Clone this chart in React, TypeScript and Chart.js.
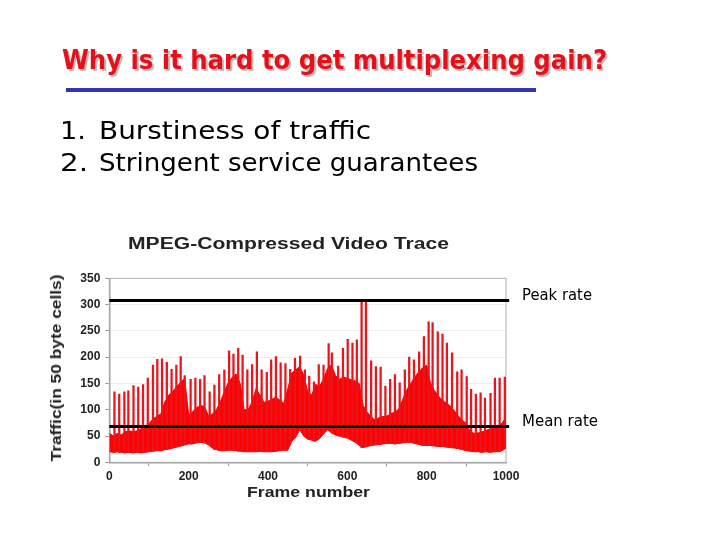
import React, { useEffect, useRef } from 'react';
import { Chart, registerables } from 'chart.js';

Chart.register(...registerables);

// ---------- data ----------
const BAND_FRAMES: number[] = Array.from({ length: 101 }, (_, i) => i * 10);

const BAND_HIGH: number[] = [
  55, 50, 55, 52, 58, 60, 58, 60, 64, 68,
  74, 82, 88, 92, 115, 128, 135, 144, 152, 160,
  90, 96, 104, 108, 106, 88, 92, 100, 115, 135,
  152, 162, 168, 150, 100, 100, 115, 140, 128, 114,
  116, 120, 124, 118, 112, 140, 170, 176, 182, 166,
  135, 128, 148, 145, 158, 178, 186, 165, 158, 162,
  160, 157, 155, 150, 108, 95, 87, 80, 85, 87,
  88, 93, 95, 102, 120, 138, 150, 162, 172, 180,
  185, 150, 136, 126, 118, 112, 107, 98, 88, 80,
  74, 58, 55, 56, 58, 61, 63, 66, 70, 74, 87,
];

const BAND_LOW: number[] = [
  20, 19, 20, 19, 18, 19, 18, 19, 18, 19,
  20, 21, 22, 22, 24, 25, 27, 29, 31, 33,
  35, 35, 37, 38, 37, 33, 27, 24, 22, 22,
  23, 23, 22, 21, 20, 20, 20, 20, 21, 20,
  20, 20, 21, 22, 23, 23, 40, 48, 62, 50,
  44, 42, 40, 45, 54, 62, 56, 52, 50, 48,
  46, 42, 38, 32, 28, 30, 32, 33, 34, 35,
  36, 36, 35, 36, 37, 38, 38, 36, 34, 32,
  32, 32, 31, 30, 30, 29, 28, 27, 26, 24,
  22, 21, 20, 20, 19, 20, 19, 20, 20, 22, 27,
];

const SPIKE_FRAMES: number[] = [
  13, 25, 38, 48, 61, 73, 85, 97, 110, 121, 133, 145, 157, 169, 180, 190,
  205, 217, 229, 240, 253, 265, 277, 290, 302, 313, 325, 336, 348, 360, 372, 384,
  397, 408, 420, 432, 444, 456, 468, 481, 493, 504, 516, 528, 540, 553, 561, 577,
  589, 601, 613, 624, 636, 647, 660, 672, 684, 696, 708, 720, 732, 745, 756, 768,
  781, 793, 805, 815, 828, 840, 851, 864, 877, 888, 901, 912, 924, 936, 947, 961,
  972, 984, 997,
];

const SPIKE_PEAKS: number[] = [
  134, 130, 134, 136, 146, 143, 148, 160, 185, 196, 197, 190, 177, 185, 201, 165,
  158, 160, 158, 165, 134, 147, 167, 176, 212, 206, 217, 204, 176, 186, 210, 176,
  171, 195, 201, 189, 188, 177, 198, 202, 176, 164, 153, 186, 185, 226, 208, 183,
  217, 234, 227, 233, 308, 308, 193, 182, 181, 145, 158, 167, 151, 176, 200, 195,
  210, 239, 267, 266, 248, 244, 227, 208, 172, 176, 163, 139, 130, 132, 122, 131,
  160, 160, 162,
];

const PEAK_RATE = 308;
const MEAN_RATE = 68;
const Y_TICKS: number[] = [0, 50, 100, 150, 200, 250, 300, 350];
const X_TICKS: number[] = [0, 200, 400, 600, 800, 1000];
const LINE_END_FRAME = 1008;

// ---------- text helpers ----------
let measureCtx: CanvasRenderingContext2D | null = null;
function textWidth(text: string, font: string): number {
  if (!measureCtx) measureCtx = document.createElement('canvas').getContext('2d');
  measureCtx!.font = font;
  return measureCtx!.measureText(text).width;
}

type FitProps = {
  text: string;
  left: number;
  baseline: number;
  width: number;
  size: number;
  family: string;
  weight?: string;
  color?: string;
  shadow?: string;
};

function FitText({ text, left, baseline, width, size, family, weight = 'normal', color = '#000', shadow }: FitProps) {
  const k = width / textWidth(text, `${weight} ${size}px ${family}`);
  return (
    <div
      style={{
        position: 'absolute',
        left,
        top: baseline - 0.846 * size,
        fontFamily: family,
        fontSize: size,
        fontWeight: weight as any,
        lineHeight: 1,
        color,
        whiteSpace: 'pre',
        transform: `scaleX(${k})`,
        transformOrigin: '0 0',
        textShadow: shadow,
      }}
    >
      {text}
    </div>
  );
}

function RotText({ text, cx, cy, length, size, family, weight = 'normal', color = '#000' }: any) {
  const k = length / textWidth(text, `${weight} ${size}px ${family}`);
  return (
    <div
      style={{
        position: 'absolute',
        left: cx,
        top: cy,
        fontFamily: family,
        fontSize: size,
        fontWeight: weight,
        lineHeight: 1,
        color,
        whiteSpace: 'pre',
        transform: `translate(-50%, -50%) rotate(-90deg) scaleX(${k})`,
      }}
    >
      {text}
    </div>
  );
}

// ---------- chart ----------
const framePlugin = {
  id: 'plotFrame',
  beforeDatasetsDraw(chart: any) {
    const { ctx, chartArea } = chart;
    ctx.save();
    ctx.strokeStyle = '#b0b0b0';
    ctx.lineWidth = 1;
    ctx.strokeRect(chartArea.left, chartArea.top, chartArea.right - chartArea.left, chartArea.bottom - chartArea.top);
    ctx.restore();
  },
};

function TraceChart() {
  const ref = useRef<HTMLCanvasElement | null>(null);
  useEffect(() => {
    if (!ref.current) return;
    const tickFont = { family: '"Liberation Sans", Arial, sans-serif', weight: 'bold' as const, size: 12 };
    const chart = new Chart(ref.current, {
      type: 'line',
      data: {
        datasets: [
          {
            type: 'line',
            data: BAND_FRAMES.map((f, i) => ({ x: f, y: BAND_LOW[i] })),
            borderColor: '#ff0000',
            borderWidth: 1,
            pointRadius: 0,
            fill: false,
            order: 3,
          },
          {
            type: 'line',
            data: BAND_FRAMES.map((f, i) => ({ x: f, y: BAND_HIGH[i] })),
            borderColor: '#f20000',
            borderWidth: 1,
            pointRadius: 0,
            fill: '-1',
            backgroundColor: '#ff0000',
            order: 3,
          },
          {
            type: 'bar',
            data: SPIKE_FRAMES.map((f, i) => ({ x: f, y: [BAND_LOW[Math.round(f / 10)], SPIKE_PEAKS[i]] })) as any,
            backgroundColor: '#e8161c',
            barThickness: 1.6,
            order: 2,
          },
          {
            type: 'line',
            data: [{ x: 0, y: PEAK_RATE }, { x: LINE_END_FRAME, y: PEAK_RATE }],
            borderColor: '#000',
            borderWidth: 3,
            pointRadius: 0,
            clip: false as any,
            order: 1,
          },
          {
            type: 'line',
            data: [{ x: 0, y: MEAN_RATE }, { x: LINE_END_FRAME, y: MEAN_RATE }],
            borderColor: '#000',
            borderWidth: 3,
            pointRadius: 0,
            clip: false as any,
            order: 1,
          },
        ] as any,
      },
      options: {
        animation: false,
        responsive: false,
        devicePixelRatio: 1,
        layout: { padding: { left: 0, top: 278.3, right: 214, bottom: 0 } },
        plugins: { legend: { display: false }, tooltip: { enabled: false }, title: { display: false } },
        scales: {
          x: {
            type: 'linear',
            min: 0,
            max: 1000,
            offset: false,
            afterFit: (s: any) => { s.height = 77.7; },
            afterBuildTicks: (s: any) => { s.ticks = X_TICKS.map((v) => ({ value: v })); },
            ticks: {
              font: tickFont,
              color: '#222',
              padding: 3,
              maxRotation: 0,
              autoSkip: false,
              callback: (v: any) => String(v),
            },
            grid: { drawOnChartArea: false, drawTicks: true, tickLength: 4, color: '#999' },
            border: { color: '#999', width: 1.5 },
          },
          y: {
            min: 0,
            max: 350,
            afterFit: (s: any) => { s.width = 109.3; },
            afterBuildTicks: (s: any) => { s.ticks = Y_TICKS.map((v) => ({ value: v })); },
            ticks: { font: tickFont, color: '#222', padding: 5, callback: (v: any) => String(v) },
            grid: { color: '#ededed', tickColor: '#999', tickLength: 4 },
            border: { color: '#999', width: 1.5 },
          },
        },
      },
      plugins: [framePlugin],
    });
    return () => chart.destroy();
  }, []);
  return <canvas ref={ref} width={720} height={540} style={{ position: 'absolute', left: 0, top: 0 }} />;
}

const SLIDE_FONT = '"DejaVu Sans", sans-serif';
const CHART_FONT = '"Liberation Sans", Arial, sans-serif';

export default function App() {
  return (
    <div style={{ position: 'absolute', left: 0, top: 0, width: 720, height: 540, background: '#fff', overflow: 'hidden' }}>
      <TraceChart />
      <FitText
        text="Why is it hard to get multiplexing gain?"
        left={62}
        baseline={69}
        width={545}
        size={26}
        family={SLIDE_FONT}
        weight="bold"
        color="#e6101a"
        shadow="2px 2px 1px #b8b8b8"
      />
      <div style={{ position: 'absolute', left: 66, top: 88, width: 470, height: 4, background: '#3535b5' }} />
      <FitText text="1." left={60} baseline={139} width={26} size={25} family={SLIDE_FONT} />
      <FitText text="Burstiness of traffic" left={99} baseline={139} width={272} size={25} family={SLIDE_FONT} />
      <FitText text="2." left={60} baseline={171} width={28} size={25} family={SLIDE_FONT} />
      <FitText text="Stringent service guarantees" left={99} baseline={171} width={379} size={25} family={SLIDE_FONT} />
      <FitText text="MPEG-Compressed Video Trace" left={128} baseline={250} width={321} size={16} family={CHART_FONT} weight="bold" color="#222" />
      <FitText text="Frame number" left={247} baseline={497} width={123} size={14} family={CHART_FONT} weight="bold" color="#222" />
      <RotText text="Traffic(in 50 byte cells)" cx={56} cy={368} length={187} size={14} family={CHART_FONT} weight="bold" color="#222" />
      <FitText text="Peak rate" left={522} baseline={301} width={70} size={15} family={SLIDE_FONT} />
      <FitText text="Mean rate" left={522} baseline={427} width={76} size={15} family={SLIDE_FONT} />
    </div>
  );
}
